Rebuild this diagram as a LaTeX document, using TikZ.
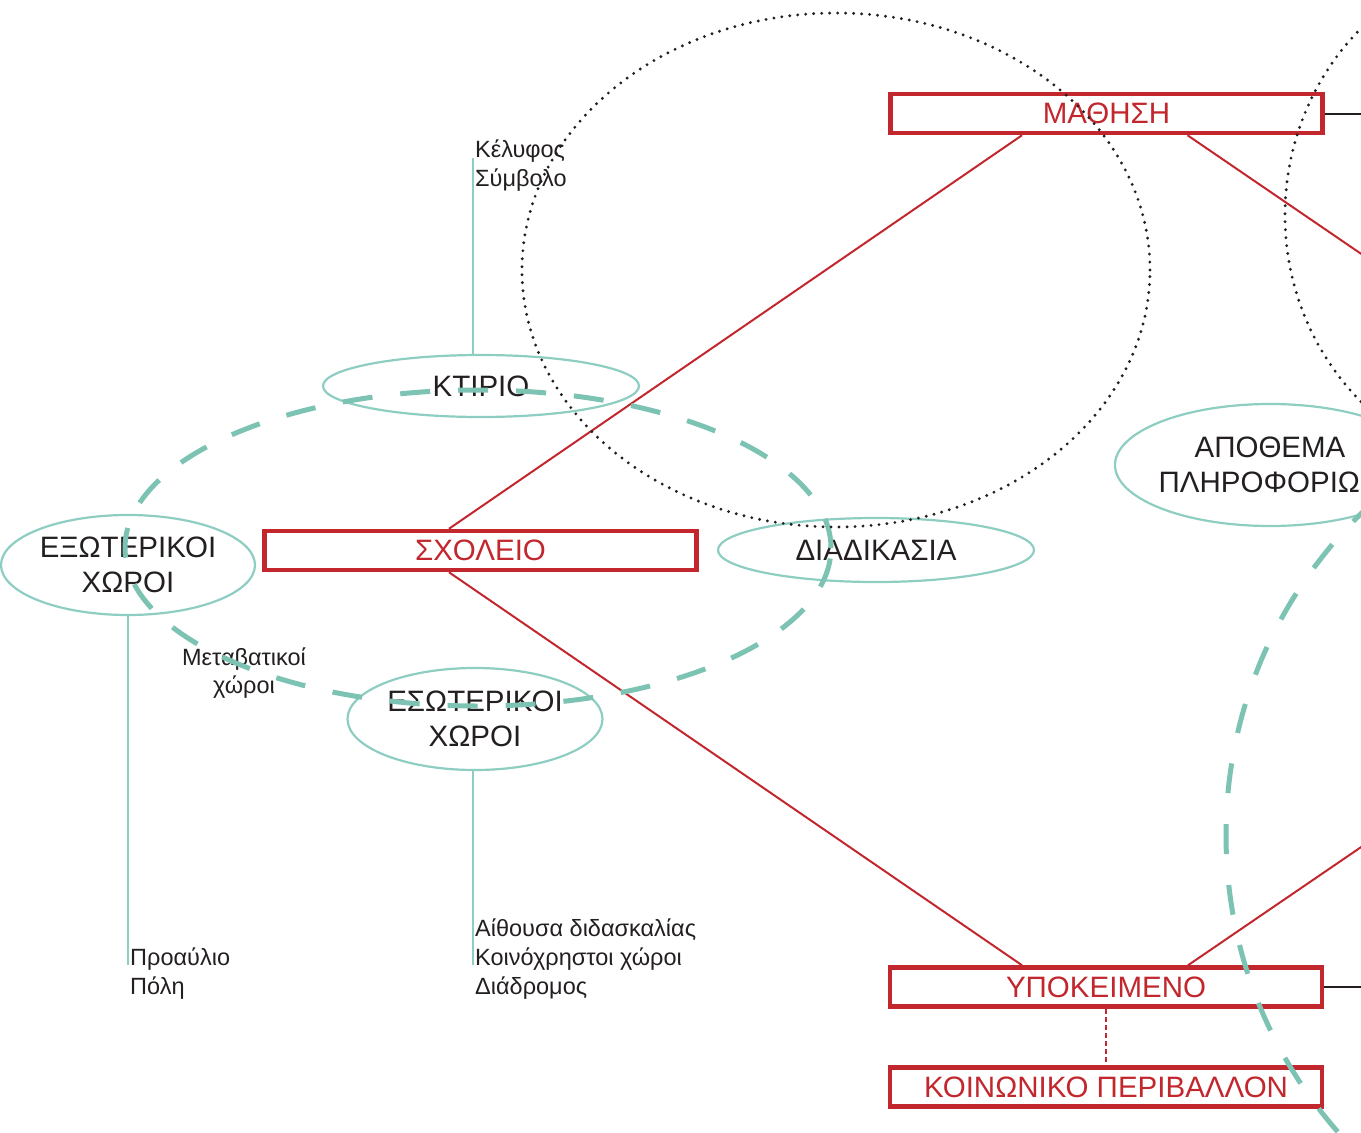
\documentclass[tikz,border=0pt]{standalone}
\usepackage{fontspec}
\setmainfont{Liberation Sans}
\usetikzlibrary{shapes.geometric}
\definecolor{schoolred}{HTML}{C1272D}
\definecolor{mint}{HTML}{8ECDC1}
\definecolor{mintdash}{HTML}{7CC3B3}
\definecolor{ink}{HTML}{231F20}

\tikzset{
  redbox/.style={draw=schoolred, line width=4.5pt, minimum width=432pt,
    minimum height=39pt, inner sep=0pt, text=schoolred,
    font=\fontsize{29.5}{34}\selectfont},
  topic/.style={ellipse, draw=mint, line width=2.2pt, inner sep=0pt,
    align=center, text=ink, font=\fontsize{29.5}{34.5}\selectfont},
  note/.style={inner sep=0pt, align=left, text=ink,
    font=\fontsize{23.5}{28.7}\selectfont},
  redlink/.style={draw=schoolred, line width=2pt},
  mintlink/.style={draw=mint, line width=2pt},
  inkline/.style={draw=ink, line width=2pt},
  dotring/.style={draw=ink, line width=3.2pt, line cap=round,
    dash pattern=on 0pt off 8pt},
  dashring/.style={draw=mintdash, line width=5pt, dash pattern=on 30pt off 28pt}
}

\begin{document}
\begin{tikzpicture}[x=1pt, y=-1pt]
      \clip (0, 0) rectangle (1361, 1133);

      % boxes
      \node [redbox] (mathisi) at (1106.5, 113.5) {ΜΑΘΗΣΗ};
      \node [redbox] (scholeio) at (480.5, 550.5) {ΣΧΟΛΕΙΟ};
      \node [redbox] (ypokeimeno) at (1106, 987) {ΥΠΟΚΕΙΜΕΝΟ};
      \node [redbox] (koinoniko) at (1106, 1087) {ΚΟΙΝΩΝΙΚΟ ΠΕΡΙΒΑΛΛΟΝ};

      % ellipses
      \node [topic, minimum width=316pt, minimum height=62pt] (ktirio) at (481, 386) {ΚΤΙΡΙΟ};
      \node [topic, minimum width=254pt, minimum height=100pt] (exoterikoi) at (128, 565) {ΕΞΩΤΕΡΙΚΟΙ\\ΧΩΡΟΙ};
      \node [topic, minimum width=316pt, minimum height=64pt] (diadikasia) at (876, 550) {ΔΙΑΔΙΚΑΣΙΑ};
      \node [topic, minimum width=255pt, minimum height=102pt] (esoterikoi) at (475, 719) {ΕΣΩΤΕΡΙΚΟΙ\\ΧΩΡΟΙ};
      \node [topic, inner xsep=-8pt, minimum width=310pt, minimum height=122pt] (apothema) at (1270, 465) {ΑΠΟΘΕΜΑ\\ΠΛΗΡΟΦΟΡΙΩΝ};

      % small labels
      \node [note, anchor=north west] (kelyfos) at (475, 140) {Κέλυφος\\Σύμβολο};
      \node [note, anchor=north west] (proaulio) at (130, 948) {Προαύλιο\\Πόλη};
      \node [note, anchor=north west] (aithousa) at (475, 919) {Αίθουσα διδασκαλίας\\Κοινόχρηστοι χώροι\\Διάδρομος};
      \node [note, align=center] (metavatikoi) at (244, 673) {Μεταβατικοί\\χώροι};

      % free ends, some of them out of the frame
      \coordinate (far top) at (1764, 529);
      \coordinate (far bottom) at (1764, 572);
      \coordinate (mathisi out) at (1400, 113.5);
      \coordinate (ypokeimeno out) at (1400, 987);
      \coordinate (kelyfos end) at (473, 158);
      \coordinate (proaulio end) at (128, 965);
      \coordinate (aithousa end) at (473, 965);

      \draw [redlink] ([xshift=-84.5pt]mathisi.south) -- ([xshift=-31.5pt]scholeio.north);
      \draw [redlink] ([xshift=81pt]mathisi.south) -- (far top);
      \draw [redlink] ([xshift=-31.5pt]scholeio.south) -- ([xshift=-84pt]ypokeimeno.north);
      \draw [redlink] ([xshift=82pt]ypokeimeno.north) -- (far bottom);
      \draw [schoolred, line width=2.5pt, dash pattern=on 5pt off 3pt] (ypokeimeno.south) -- (koinoniko.north);
      \draw [inkline] (mathisi.east) -- (mathisi out);
      \draw [inkline] (ypokeimeno.east) -- (ypokeimeno out);

      \draw [mintlink] (ktirio.north -| kelyfos end) -- (kelyfos end);
      \draw [mintlink] (exoterikoi.south) -- (proaulio end);
      \draw [mintlink] (esoterikoi.south -| aithousa end) -- (aithousa end);

      % rings
      \draw [dashring] (478, 548) ellipse (353pt and 158pt);
      \draw [dashring, dash pattern=on 30pt off 31pt] (1676, 835) circle (450pt);
      \draw [dotring] (836, 270) ellipse (314pt and 257pt);
      \draw [dotring] (1535, 215) ellipse (250pt and 260pt);
\end{tikzpicture}
\end{document}
